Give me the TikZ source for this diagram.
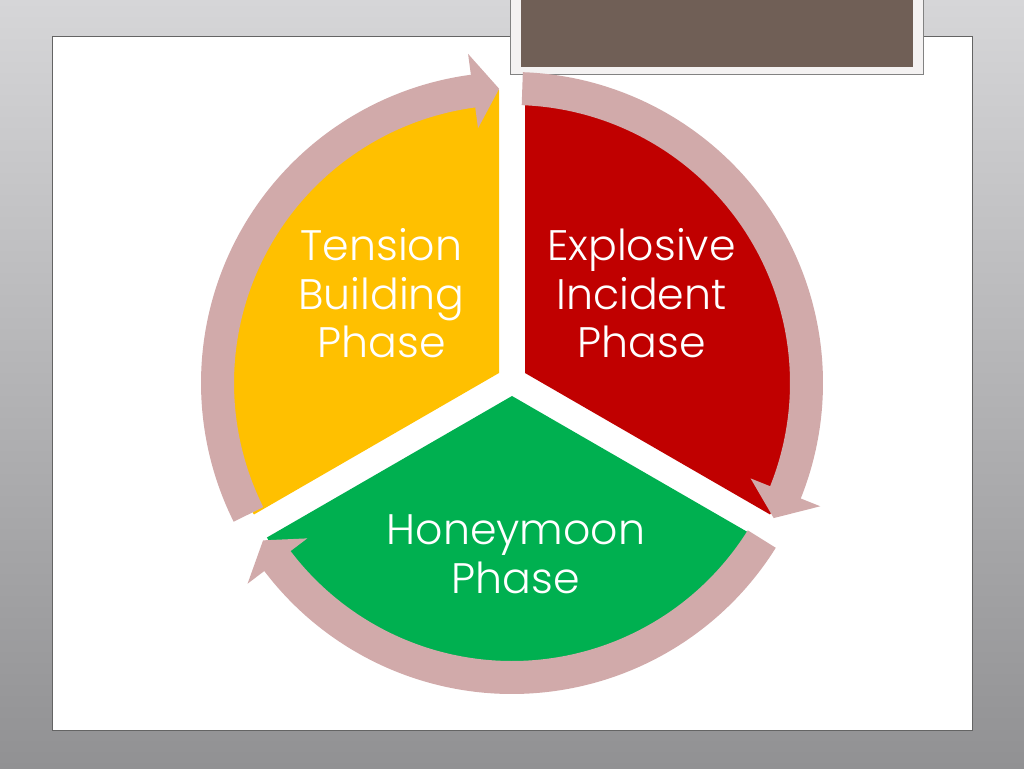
\documentclass[tikz,border=0pt]{standalone}
\usepackage{fontspec}
\setmainfont{Poppins Light}
\usetikzlibrary{calc}
\definecolor{bgtop}{RGB}{214,214,216}
\definecolor{bgbot}{RGB}{145,145,147}
\definecolor{slideedge}{RGB}{100,100,100}
\definecolor{brownbox}{RGB}{112,95,86}
\definecolor{boxframe}{RGB}{244,242,242}
\definecolor{boxedge}{RGB}{130,130,130}
\definecolor{yel}{RGB}{255,192,0}
\definecolor{redc}{RGB}{192,0,0}
\definecolor{grn}{RGB}{0,176,80}
\definecolor{ringc}{RGB}{209,170,170}
\tikzset{
  phasetext/.style={text=white, align=center, font=\fontsize{32}{36.4}\selectfont, inner sep=0pt},
  ringfill/.style={fill=ringc},
}
\newcommand\ringarrow[3]{%
  \fill[ringfill] (#1:278) arc[start angle=#1, end angle=#2, radius=278]
    -- (#2:257) -- (#3:294.5) -- (#2:332) -- (#2:311)
    arc[start angle=#2, end angle=#1, radius=311] -- cycle;}
\begin{document}
\begin{tikzpicture}[x=0.75pt,y=0.75pt]
\useasboundingbox (0,0) rectangle (1024,768);
% background
\shade[top color=bgtop, bottom color=bgbot] (0,0) rectangle (1024,768);
% slide
\draw[slideedge, fill=white, line width=0.75pt] (52,38) rectangle (972,731);
% brown title box
\draw[boxedge, fill=boxframe, line width=0.75pt] (510,693) rectangle (923,772);
\fill[brownbox] (521,701) rectangle (913,772);
% sectors
\fill[yel] (499,395) -- ++(90:283) arc[start angle=90, end angle=210, radius=283] -- cycle;
\fill[redc] (525,395) -- ++(-30:283) arc[start angle=-30, end angle=90, radius=283] -- cycle;
\fill[grn] (512,372) -- ++(210:283) arc[start angle=210, end angle=330, radius=283] -- cycle;
% ring arrows
\begin{scope}[shift={(512,385)}]
  \ringarrow{206.5}{97.6}{92.5}
  \ringarrow{88}{-21.8}{-27.3}
  \ringarrow{-32}{-142.8}{-147.7}
\end{scope}
% labels
\node[phasetext] (tension) at (381.5,474.5) {Tension\\Building\\Phase};
\node[phasetext] (explosive) at (641.5,474.5) {Explosive\\Incident\\Phase};
\node[phasetext] (honey) at (516,214) {Honeymoon\\Phase};
\end{tikzpicture}
\end{document}
